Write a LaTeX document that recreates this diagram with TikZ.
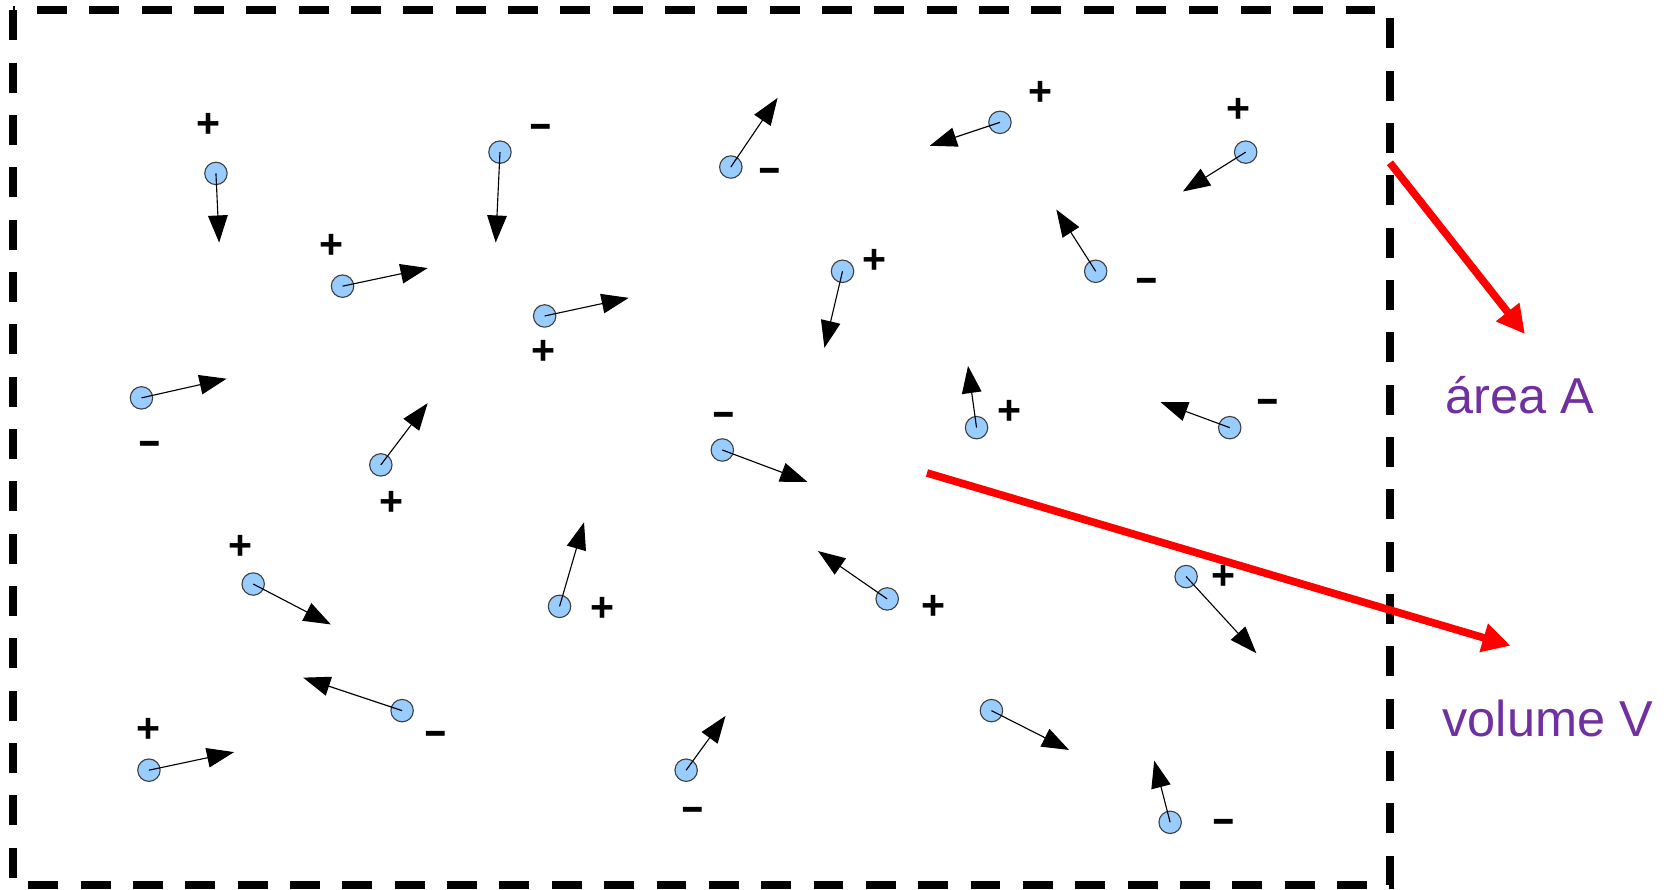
\documentclass[tikz,border=0pt]{standalone}
\usepackage{fontspec}
\setmainfont{Liberation Sans}
\usepackage{xcolor}
\usepackage{tikz}
\usetikzlibrary{arrows.meta}
\definecolor{particleBlue}{RGB}{153,204,255}
\definecolor{labelPurple}{RGB}{112,48,160}
\newcommand{\wideminus}{\scalebox{1.8}[1]{-}}
\tikzset{
  % blue balls, their velocities and their charges
  particle/.style={
    circle,
    fill=particleBlue,
    draw=black!75,
    line width=0.6pt,
    minimum size=12pt,
    inner sep=0pt
  },
  velocity/.style={
    -{Triangle[length=14.5pt,width=10.5pt]},
    line width=0.6pt,
    draw=black
  },
  charge/.style={
    font=\fontsize{22pt}{26pt}\selectfont\bfseries,
    text height=12.5pt,
    text depth=0pt,
    inner sep=0pt
  },
  % container and the two quantities
  region/.style={
    draw=black,
    line width=4.3pt,
    dash pattern=on 16pt off 12pt
  },
  pointer/.style={
    -{Triangle[length=15pt,width=15pt]},
    line width=4.1pt,
    draw=red
  },
  quantity/.style={
    font=\fontsize{27pt}{32pt}\selectfont,
    text=labelPurple,
    inner sep=0pt
  }
}

\begin{document}
\begin{tikzpicture}[x=0.2mm,y=-0.2mm]

\useasboundingbox (0,0) rectangle (1568,835.7);

\draw[region] (12.5,9.7) rectangle (1306.6,832);

\node[particle] (p1) at (203,163) {};
\coordinate (v1) at (206,228);
\draw[velocity] (p1.center) -- (v1);
\node[charge] (s1) at (196,118) {+};

\node[particle] (p2) at (470,143) {};
\coordinate (v2) at (466,228);
\draw[velocity] (p2.center) -- (v2);
\node[charge] (s2) at (508,118) {\wideminus};

\node[particle] (p3) at (687,157) {};
\coordinate (v3) at (731,92);
\draw[velocity] (p3.center) -- (v3);
\node[charge] (s3) at (724,160) {\wideminus};

\node[particle] (p4) at (940,115) {};
\coordinate (v4) at (874,137);
\draw[velocity] (p4.center) -- (v4);
\node[charge] (s4) at (978,88) {+};

\node[particle] (p5) at (1171,143) {};
\coordinate (v5) at (1112,180);
\draw[velocity] (p5.center) -- (v5);
\node[charge] (s5) at (1164,104) {+};

\node[particle] (p6) at (322,269) {};
\coordinate (v6) at (402,252);
\draw[velocity] (p6.center) -- (v6);
\node[charge] (s6) at (312,232) {+};

\node[particle] (p7) at (512,297) {};
\coordinate (v7) at (591,280);
\draw[velocity] (p7.center) -- (v7);
\node[charge] (s7) at (511,332) {+};

\node[particle] (p8) at (792,255) {};
\coordinate (v8) at (775,327);
\draw[velocity] (p8.center) -- (v8);
\node[charge] (s8) at (822,246) {+};

\node[particle] (p9) at (1030,255) {};
\coordinate (v9) at (993,197);
\draw[velocity] (p9.center) -- (v9);
\node[charge] (s9) at (1078,263) {\wideminus};

\node[particle] (p10) at (133,374) {};
\coordinate (v10) at (213,356);
\draw[velocity] (p10.center) -- (v10);
\node[charge] (s10) at (141,416) {\wideminus};

\node[particle] (p11) at (358,437) {};
\coordinate (v11) at (402,379);
\draw[velocity] (p11.center) -- (v11);
\node[charge] (s11) at (368,474) {+};

\node[particle] (p12) at (679,423) {};
\coordinate (v12) at (759,453);
\draw[velocity] (p12.center) -- (v12);
\node[charge] (s12) at (680,389) {\wideminus};

\node[particle] (p13) at (918,402) {};
\coordinate (v13) at (910,344);
\draw[velocity] (p13.center) -- (v13);
\node[charge] (s13) at (949,388) {+};

\node[particle] (p14) at (1156,402) {};
\coordinate (v14) at (1091,378);
\draw[velocity] (p14.center) -- (v14);
\node[charge] (s14) at (1192,377) {\wideminus};

\node[particle] (p15) at (238,549) {};
\coordinate (v15) at (311,587);
\draw[velocity] (p15.center) -- (v15);
\node[charge] (s15) at (226,515) {+};

\node[particle] (p16) at (526,570) {};
\coordinate (v16) at (549,491);
\draw[velocity] (p16.center) -- (v16);
\node[charge] (s16) at (566,573) {+};

\node[particle] (p17) at (834,563) {};
\coordinate (v17) at (769,518);
\draw[velocity] (p17.center) -- (v17);
\node[charge] (s17) at (878,571) {+};

\node[particle] (p18) at (1115,542) {};
\coordinate (v18) at (1181,614);
\draw[velocity] (p18.center) -- (v18);
\node[charge] (s18) at (1150,543) {+};

\node[particle] (p19) at (378,668) {};
\coordinate (v19) at (285,637);
\draw[velocity] (p19.center) -- (v19);
\node[charge] (s19) at (410,689) {\wideminus};

\node[particle] (p20) at (140,724) {};
\coordinate (v20) at (220,707);
\draw[velocity] (p20.center) -- (v20);
\node[charge] (s20) at (140,687) {+};

\node[particle] (p21) at (645,724) {};
\coordinate (v21) at (682,673);
\draw[velocity] (p21.center) -- (v21);
\node[charge] (s21) at (651,760) {\wideminus};

\node[particle] (p22) at (932,668) {};
\coordinate (v22) at (1005,705);
\draw[velocity] (p22.center) -- (v22);

\node[particle] (p23) at (1100,773) {};
\coordinate (v23) at (1085,715);
\draw[velocity] (p23.center) -- (v23);
\node[charge] (s23) at (1150,772) {\wideminus};

% labels and red pointers
\node[quantity] (areaA) at (1429,371) {área A};
\node[quantity] (volumeV) at (1455,675) {volume V};

\coordinate (areaTail) at (1306.6,153);
\coordinate (areaTip) at (1433.5,314);
\draw[pointer] (areaTail) -- (areaTip);

\coordinate (volumeTail) at (871.4,444.6);
\coordinate (volumeTip) at (1420,607);
\draw[pointer] (volumeTail) -- (volumeTip);

\end{tikzpicture}
\end{document}
